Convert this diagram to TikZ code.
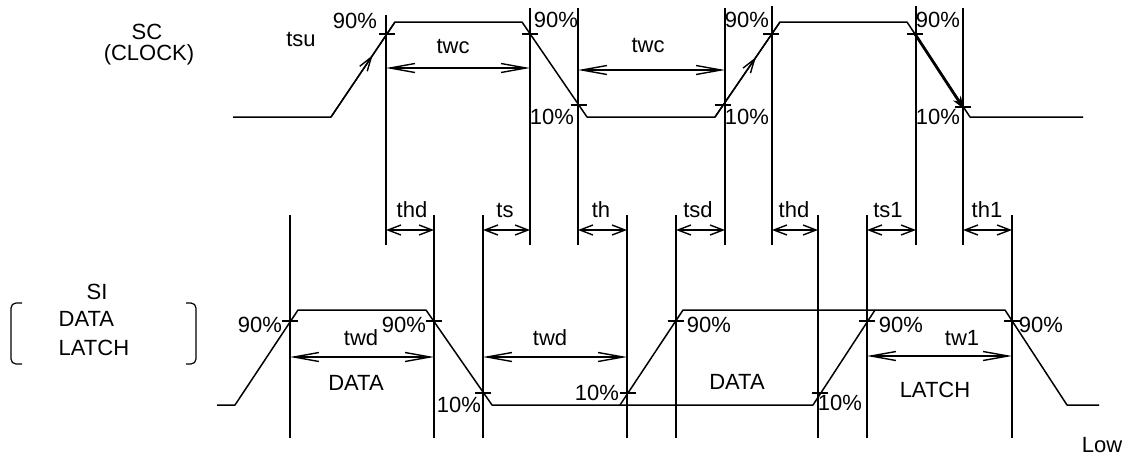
\documentclass[tikz,border=0pt]{standalone}
\usepackage{fontspec}
\setmainfont{Liberation Sans}
\usetikzlibrary{arrows.meta,decorations.markings}
\begin{document}
\begin{tikzpicture}[x=1pt,y=-1pt,line width=1.4pt,line join=round,
  wave/.style={line width=1.5pt},
  guide/.style={line width=1.4pt},
  longdim/.style={{Straight Barb[length=25pt,width=9pt]}-{Straight Barb[length=25pt,width=9pt]}},
  shortdim/.style={{Straight Barb[length=13pt,width=10pt]}-{Straight Barb[length=13pt,width=10pt]}},
  midarr/.style={postaction={decorate,decoration={markings,mark=at position #1 with {\arrow{Straight Barb[length=14pt,width=9pt]}}}}},
  lbl/.style={inner sep=0pt,font=\fontsize{22}{26}\selectfont}]
\useasboundingbox (0,0) rectangle (1127,459);

% ---------- SC waveform ----------
\draw[wave] (233,117) -- (331,117) -- (395,22) -- (522,22) -- (587,117) -- (715,117) -- (780,22) -- (907,22) -- (970,117) -- (1083,117);
\draw[midarr=0.65] (331,117) -- (395,22);
\draw[midarr=0.63] (715,117) -- (780,22);
\draw[line width=2.8pt,-{Stealth[length=13pt,width=9pt]}] (915,34) -- (964,109);
% ticks
\foreach \x/\y in {387/34,530/34,579/105,723/105,771/34,915/34,963/107}
  \draw (\x-8,\y) -- (\x+8,\y);
\draw (963,100) -- (963,114);

% vertical guides (top)
\draw[guide] (386,15) -- (386,245);
\foreach \x in {530,578,725,963} \draw[guide] (\x,8) -- (\x,245);
\foreach \x in {772,916} \draw[guide] (\x,6) -- (\x,245);
% vertical guides (bottom)
\foreach \x in {290,434,483,627,676,818,867,1012} \draw[guide] (\x,215) -- (\x,438);

% twc
\draw[longdim] (386,68) -- (530,68);
\draw[longdim] (578,70) -- (725,70);
\node[lbl] (twc1) at (453,46) {twc};
\node[lbl] (twc2) at (648,45) {twc};
\node[lbl] (tsu) at (301,39) {tsu};

% SC percentages
\node[lbl] (p1) at (355,21) {90\%};
\node[lbl] (p2) at (556,20) {90\%};
\node[lbl] (p3) at (552,117) {10\%};
\node[lbl] (p4) at (747,117) {10\%};
\node[lbl] (p5) at (747,20) {90\%};
\node[lbl] (p6) at (938,20) {90\%};
\node[lbl] (p7) at (938,117) {10\%};

% SC labels
\node[lbl] (sc) at (147,32) {SC};
\node[lbl] (clk) at (149,55) {(CLOCK)};

% short dimension arrows
\foreach \a/\b/\t/\c in {386/434/thd/412,483/530/ts/505,578/627/th/601,676/725/tsd/698,772/818/thd/794,867/916/ts1/888,963/1012/th1/987}{
  \draw[shortdim] (\a,230) -- (\b,230);
  \node[lbl] at (\c,210) {\t};
}

% ---------- SI waveform ----------
\draw[wave] (217,405) -- (235,405) -- (298,310) -- (426,310) -- (492,405) -- (813,405) -- (875,310);
\draw[wave] (620,405) -- (683,310) -- (1005,310) -- (1067,405) -- (1099,405);
\foreach \x/\y in {290/321,434/321,483/393,628/393,676/321,820/393,867/321,1012/321}
  \draw (\x-8,\y) -- (\x+8,\y);

\draw[longdim] (290,357) -- (434,357);
\draw[longdim] (483,357) -- (627,357);
\draw[longdim] (867,356) -- (1012,356);

\node[lbl] at (260,325) {90\%};
\node[lbl] at (404,325) {90\%};
\node[lbl] at (459,405) {10\%};
\node[lbl] at (597,393) {10\%};
\node[lbl] at (709,325) {90\%};
\node[lbl] at (840,403) {10\%};
\node[lbl] at (901,325) {90\%};
\node[lbl] at (1041,325) {90\%};

\node[lbl] at (361,338) {twd};
\node[lbl] at (356,383) {DATA};
\node[lbl] at (550,338) {twd};
\node[lbl] at (737,382) {DATA};
\node[lbl] at (962,338) {tw1};
\node[lbl] at (935,390) {LATCH};
\node[lbl] at (1102,445) {Low};

% SI labels and brackets
\node[lbl] (si) at (97,292) {SI};
\node[lbl,anchor=west] (dl) at (58,319) {DATA};
\node[lbl,anchor=west] (ll) at (58,348) {LATCH};
\draw[line width=1.2pt,rounded corners=5pt] (22,303) -- (11,303) -- (11,364) -- (22,364);
\draw[line width=1.2pt,rounded corners=5pt] (186,303) -- (196,303) -- (196,364) -- (186,364);
\end{tikzpicture}
\end{document}
